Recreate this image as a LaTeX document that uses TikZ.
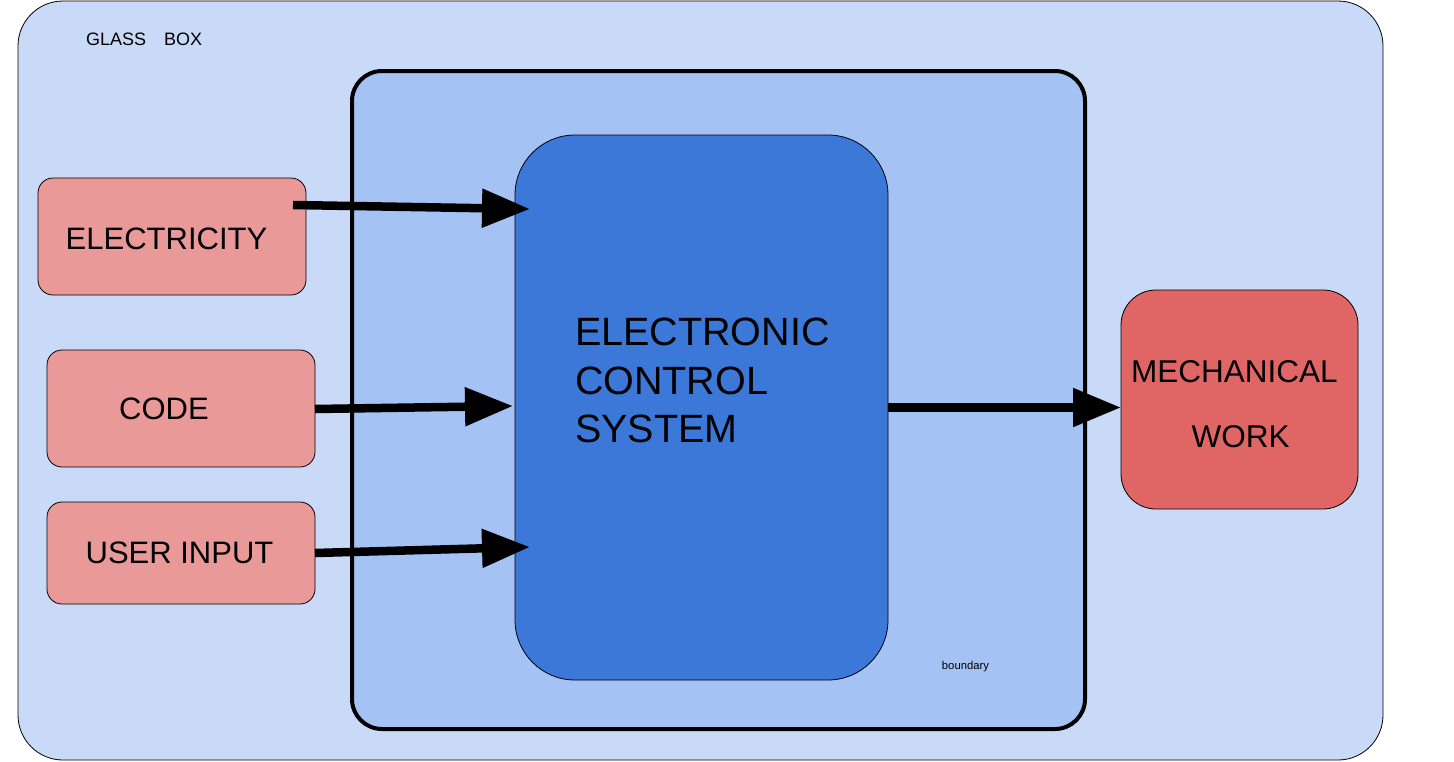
\documentclass[tikz,border=0pt]{standalone}
\usepackage{fontspec}
\setmainfont{Liberation Sans}
\usetikzlibrary{arrows.meta, positioning}

\definecolor{glassblue}{HTML}{C9DAF8}
\definecolor{boundblue}{HTML}{A4C2F4}
\definecolor{ecsblue}{HTML}{3C78D8}
\definecolor{srcpink}{HTML}{EA9999}
\definecolor{workred}{HTML}{E06666}

\begin{document}
\begin{tikzpicture}[x=1pt, y=-1pt]
	\tikzset{
		every node/.style={inner sep=0pt, outer sep=0pt},
		src/.style={draw, line width=0.8pt, fill=srcpink, rounded corners=15pt, minimum width=268pt},
		srclbl/.style={font=\fontsize{31}{36}\selectfont},
		flow/.style={-{Triangle[length=48pt, width=37pt]}, line width=8.5pt}
	}
	\useasboundingbox (0,0) rectangle (1454,761);

	% outer box and boundary
	\node[draw, line width=0.8pt, fill=glassblue, rounded corners=45pt, minimum width=1365pt, minimum height=759pt] (glass) at (700.5,380.5) {};
	\node[anchor=base west, font=\fontsize{18}{22}\selectfont] (glasslbl) at (86,45) {GLASS\hspace{18pt}BOX};
	\node[draw, line width=4pt, fill=boundblue, rounded corners=30pt, minimum width=733pt, minimum height=658pt] (bound) at (718.5,400) {};
	\node[font=\fontsize{11.3}{13}\selectfont] (boundlbl) at (965.5,667) {boundary};

	% control system
	\node[draw, line width=0.8pt, fill=ecsblue, rounded corners=60pt, minimum width=373pt, minimum height=545pt] (ecs) at (701.5,407.5) {};
	\node[anchor=north west, align=left, font=\fontsize{39.5}{48.5}\selectfont] (ecslbl) at (575,318) {ELECTRONIC\\CONTROL\\SYSTEM};

	% inputs
	\node[src, minimum height=117pt, label={[srclbl, xshift=-5.5pt, yshift=-2pt]center:ELECTRICITY}] (elec) at (172,236.5) {};
	\node[src, minimum height=117pt, label={[srclbl, xshift=-17pt]center:CODE}] (code) at (181,408.5) {};
	\node[src, minimum height=102pt, label={[srclbl, xshift=-1.5pt]center:USER INPUT}] (user) at (181,553) {};

	% output
	\node[draw, line width=0.8pt, fill=workred, rounded corners=35pt, minimum width=237pt, minimum height=219pt,
		label={[align=center, font=\fontsize{31.5}{65}\selectfont, xshift=-5pt, yshift=-5pt]center:MECHANICAL\\\hspace*{12pt}WORK}] (work) at (1239.5,399.5) {};

	% arrows
	\coordinate (elecout) at (293,205);
	\coordinate (elecin) at (530,209);
	\coordinate (codein) at (513,406);
	\coordinate (userin) at (530,547);
	\draw[flow] (elecout) -- (elecin);
	\draw[flow] (code.east |- 0,409) -- (codein);
	\draw[flow] (user.east) -- (userin);
	\draw[flow] (ecs.east) -- (ecs.east -| work.west);
\end{tikzpicture}
\end{document}
